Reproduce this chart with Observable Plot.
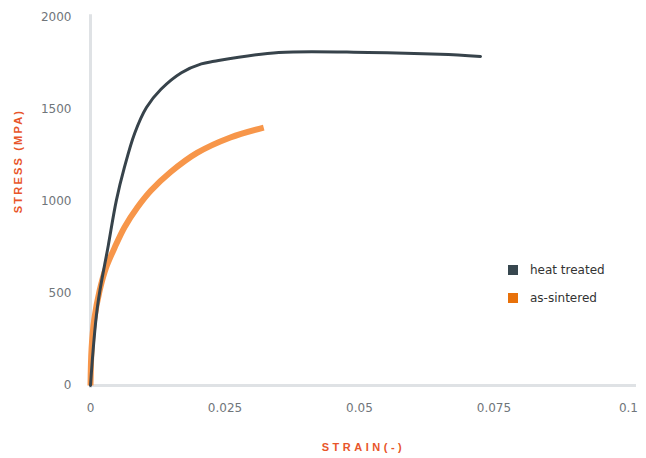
<!DOCTYPE html>
<html>
<head>
<meta charset="utf-8">
<script src="https://cdn.jsdelivr.net/npm/d3@7"></script>
<script src="https://cdn.jsdelivr.net/npm/@observablehq/plot@0.6"></script>
<style>
  html, body { margin: 0; padding: 0; background: #fff; }
  #wrap { position: relative; width: 646px; height: 458px; }
  .legend { position: absolute; left: 508px; top: 256px; font-family: "DejaVu Sans", sans-serif; font-size: 12px; color: #333; }
  .legend .row { display: flex; align-items: center; height: 28px; }
  .legend .sw { width: 10px; height: 10px; margin-right: 12px; }
</style>
</head>
<body>
<div id="wrap"></div>
<script>
const strainHT = [0, 0.0013, 0.0033, 0.0048, 0.0063, 0.0082, 0.0104, 0.0131, 0.0169, 0.0206, 0.023, 0.035, 0.0516, 0.065, 0.0725];
const stressHT = [0, 430, 760, 1005, 1185, 1370, 1511, 1610, 1700, 1748, 1762, 1810, 1810, 1800, 1788];
const strainAS = [0, 0.0002, 0.0007, 0.0017, 0.0029, 0.0045, 0.0063, 0.0087, 0.0112, 0.0149, 0.0198, 0.026, 0.0322];
const stressAS = [0, 200, 360, 516, 641, 750, 859, 967, 1058, 1160, 1264, 1348, 1402];
const xTicks = [0, 0.025, 0.05, 0.075, 0.1];
const yTicks = [0, 500, 1000, 1500, 2000];
const seriesNames = ["heat treated", "as-sintered"];
const lineColors = ["#37434b", "#f7964a"];
const legendColors = ["#37474f", "#e8710a"];

const ht = strainHT.map((s, i) => ({strain: s, stress: stressHT[i]}));
const as = strainAS.map((s, i) => ({strain: s, stress: stressAS[i]}));

const chart = Plot.plot({
  width: 646,
  height: 458,
  marginLeft: 90,
  marginRight: 10,
  marginTop: 17,
  marginBottom: 73,
  style: {fontFamily: "DejaVu Sans, sans-serif", fontSize: "12px", color: "#70757a", background: "#fff"},
  x: {domain: [0, 0.1015], ticks: xTicks, tickFormat: d => String(d), tickSize: 0, tickPadding: 18, label: null},
  y: {domain: [0, 2000], ticks: yTicks, tickFormat: d => String(d), tickSize: 0, tickPadding: 19, label: null},
  marks: [
    Plot.ruleX([0], {y1: -15, y2: 2015, stroke: "#dfe2e5", strokeWidth: 3}),
    Plot.ruleY([0], {stroke: "#dfe2e5", strokeWidth: 3}),
    Plot.line(as, {x: "strain", y: "stress", stroke: lineColors[1], strokeWidth: 6, curve: "catmull-rom", strokeLinecap: "butt"}),
    Plot.line(ht, {x: "strain", y: "stress", stroke: lineColors[0], strokeWidth: 3, curve: "catmull-rom"}),
    Plot.text(["STRAIN(-)"], {frameAnchor: "bottom", dy: 65, text: d => d, fill: "#e8552a", fontWeight: "bold", fontSize: 11, fontFamily: "Liberation Sans, Arial, sans-serif"}),
    Plot.text([1220], {y: d => d, frameAnchor: "left", textAnchor: "middle", dx: -72, rotate: -90, text: () => "STRESS (MPA)", fill: "#e8552a", fontWeight: "bold", fontSize: 11, fontFamily: "Liberation Sans, Arial, sans-serif"})
  ]
});
d3.select(chart).selectAll("text").each(function () {
  const t = this.textContent;
  if (t === "STRAIN(-)") this.setAttribute("letter-spacing", "3.5px");
  if (t === "STRESS (MPA)") this.setAttribute("letter-spacing", "2.2px");
});
const wrap = document.getElementById("wrap");
wrap.appendChild(chart);

const legend = document.createElement("div");
legend.className = "legend";
seriesNames.forEach((n, i) => {
  const row = document.createElement("div");
  row.className = "row";
  const sw = document.createElement("div");
  sw.className = "sw";
  sw.style.background = legendColors[i];
  const t = document.createElement("span");
  t.textContent = n;
  row.appendChild(sw);
  row.appendChild(t);
  legend.appendChild(row);
});
wrap.appendChild(legend);
</script>
</body>
</html>
